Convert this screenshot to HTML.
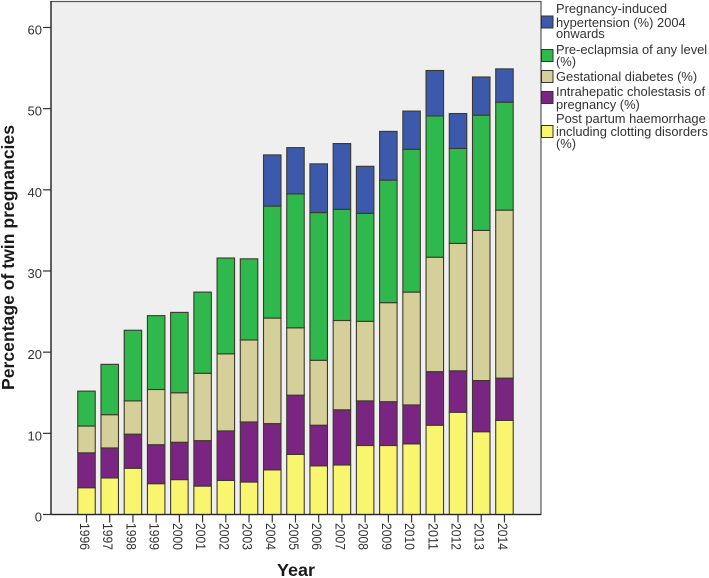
<!DOCTYPE html>
<html lang="en">
<head>
<meta charset="utf-8">
<title>Percentage of twin pregnancies by year</title>
<style>
html,body{margin:0;padding:0;background:#fff;width:709px;height:578px;overflow:hidden}
svg{display:block;filter:blur(0.35px)}
text{font-family:"Liberation Sans",sans-serif;fill:#333}
</style>
</head>
<body>
<svg id="chart" width="709" height="578" viewBox="0 0 709 578" xmlns="http://www.w3.org/2000/svg"></svg>
<script>
const categories = ["1996","1997","1998","1999","2000","2001","2002","2003","2004","2005","2006","2007","2008","2009","2010","2011","2012","2013","2014"];
const clotting = [3.3,4.5,5.7,3.8,4.3,3.5,4.2,4.0,5.5,7.4,6.0,6.1,8.5,8.5,8.7,11.0,12.6,10.2,11.6];
const cholestasis = [4.3,3.7,4.2,4.8,4.6,5.6,6.1,7.4,5.7,7.3,5.0,6.8,5.5,5.4,4.8,6.6,5.1,6.3,5.2];
const diabetes = [3.3,4.1,4.1,6.8,6.1,8.3,9.5,10.1,13.0,8.3,8.0,11.0,9.8,12.2,13.9,14.1,15.7,18.5,20.7];
const eclampsia = [4.3,6.2,8.7,9.1,9.9,10.0,11.8,10.0,13.8,16.5,18.2,13.7,13.3,15.1,17.6,17.4,11.7,14.2,13.3];
const hypertension = [0,0,0,0,0,0,0,0,6.3,5.7,6.0,8.1,5.8,6.0,4.7,5.6,4.3,4.7,4.1];
const yTicks = [0,10,20,30,40,50,60];

const svg = document.getElementById('chart');
const NS = 'http://www.w3.org/2000/svg';
function make(tag, attrs, text) {
  const el = document.createElementNS(NS, tag);
  for (const k in attrs) el.setAttribute(k, attrs[k]);
  if (text !== undefined) el.textContent = text;
  svg.appendChild(el);
  return el;
}
const y0 = 514.5, yPerUnit = 8.117;
const x0 = 86.5, xStep = 23.22, barW = 17.5;
const yScale = v => y0 - v * yPerUnit;
const xScale = i => x0 + i * xStep;

const plot = make('rect', {x:51, y:1.5, width:490, height:513, fill:'#efeff0', stroke:'#555', 'stroke-width':1.2});



const seriesList = [
  {key:'clotting', values:clotting, fill:'#faf56f'},
  {key:'cholestasis', values:cholestasis, fill:'#7b2582'},
  {key:'diabetes', values:diabetes, fill:'#d5cf9a'},
  {key:'eclampsia', values:eclampsia, fill:'#2fb84b'},
  {key:'hypertension', values:hypertension, fill:'#3d59ab'}
];

categories.forEach((year, i) => {
  let base = 0;
  seriesList.forEach(s => {
    const v = s.values[i];
    if (v <= 0) return;
    const top = base + v;
    const bar = make('rect', {
      x: xScale(i) - barW / 2,
      y: yScale(top),
      width: barW,
      height: yScale(base) - yScale(top),
      fill: s.fill,
      stroke: '#3a3a2c',
      'stroke-width': 1.1
    });
    
    
    base = top;
  });
  const tick = make('line', {x1:xScale(i), x2:xScale(i), y1:y0, y2:y0 + 8, stroke:'#333', 'stroke-width':1.2});
  
  
  const lx = xScale(i) - 6.5, ly = 523;
  const label = make('text', {x:lx, y:ly, 'font-size':13.5, textLength:27, lengthAdjust:'spacingAndGlyphs', transform:'rotate(90 ' + lx + ' ' + ly + ')'}, year);
  
  
});

yTicks.forEach(t => {
  const tick = make('line', {x1:43, x2:51, y1:yScale(t), y2:yScale(t), stroke:'#333', 'stroke-width':1.2});
  
  
  const label = make('text', {x:42, y:yScale(t) + 7, 'font-size':13, 'text-anchor':'end'}, String(t));
  
  
});

const axisY = make('line', {x1:51, x2:51, y1:1, y2:515, stroke:'#222', 'stroke-width':1.3});


const axisX = make('line', {x1:51, x2:541, y1:y0, y2:y0, stroke:'#222', 'stroke-width':1.3});



const yTitle = make('text', {x:14, y:390, 'font-size':17.5, 'font-weight':'bold', textLength:265, lengthAdjust:'spacingAndGlyphs', style:'fill:#1a1a1a', transform:'rotate(-90 14 390)'}, 'Percentage of twin pregnancies');


const xTitle = make('text', {x:277, y:576, 'font-size':17.5, 'font-weight':'bold', textLength:38, lengthAdjust:'spacingAndGlyphs', style:'fill:#1a1a1a'}, 'Year');



const legendItems = [
  {name:'hypertension', swatchY:22, fill:'#3d59ab', lines:[['Pregnancy-induced',13],['hypertension (%) 2004',27],['onwards',38]]},
  {name:'eclampsia', swatchY:55.5, fill:'#2fb84b', lines:[['Pre-eclapmsia of any level',54],['(%)',66]]},
  {name:'diabetes', swatchY:76.5, fill:'#d5cf9a', lines:[['Gestational diabetes (%)',81]]},
  {name:'cholestasis', swatchY:97.5, fill:'#7b2582', lines:[['Intrahepatic cholestasis of',96],['pregnancy (%)',109]]},
  {name:'clotting', swatchY:131.5, fill:'#faf56f', lines:[['Post partum haemorrhage',123],['including clotting disorders',136],['(%)',148]]}
];
legendItems.forEach(item => {
  const sw = make('rect', {x:541.5, y:item.swatchY - 6, width:11.5, height:12, fill:item.fill, stroke:'#333', 'stroke-width':1});
  
  
  item.lines.forEach(l => {
    const t = make('text', {x:556, y:l[1], 'font-size':12.9}, l[0]);
    
    
  });
});
</script>
</body>
</html>
